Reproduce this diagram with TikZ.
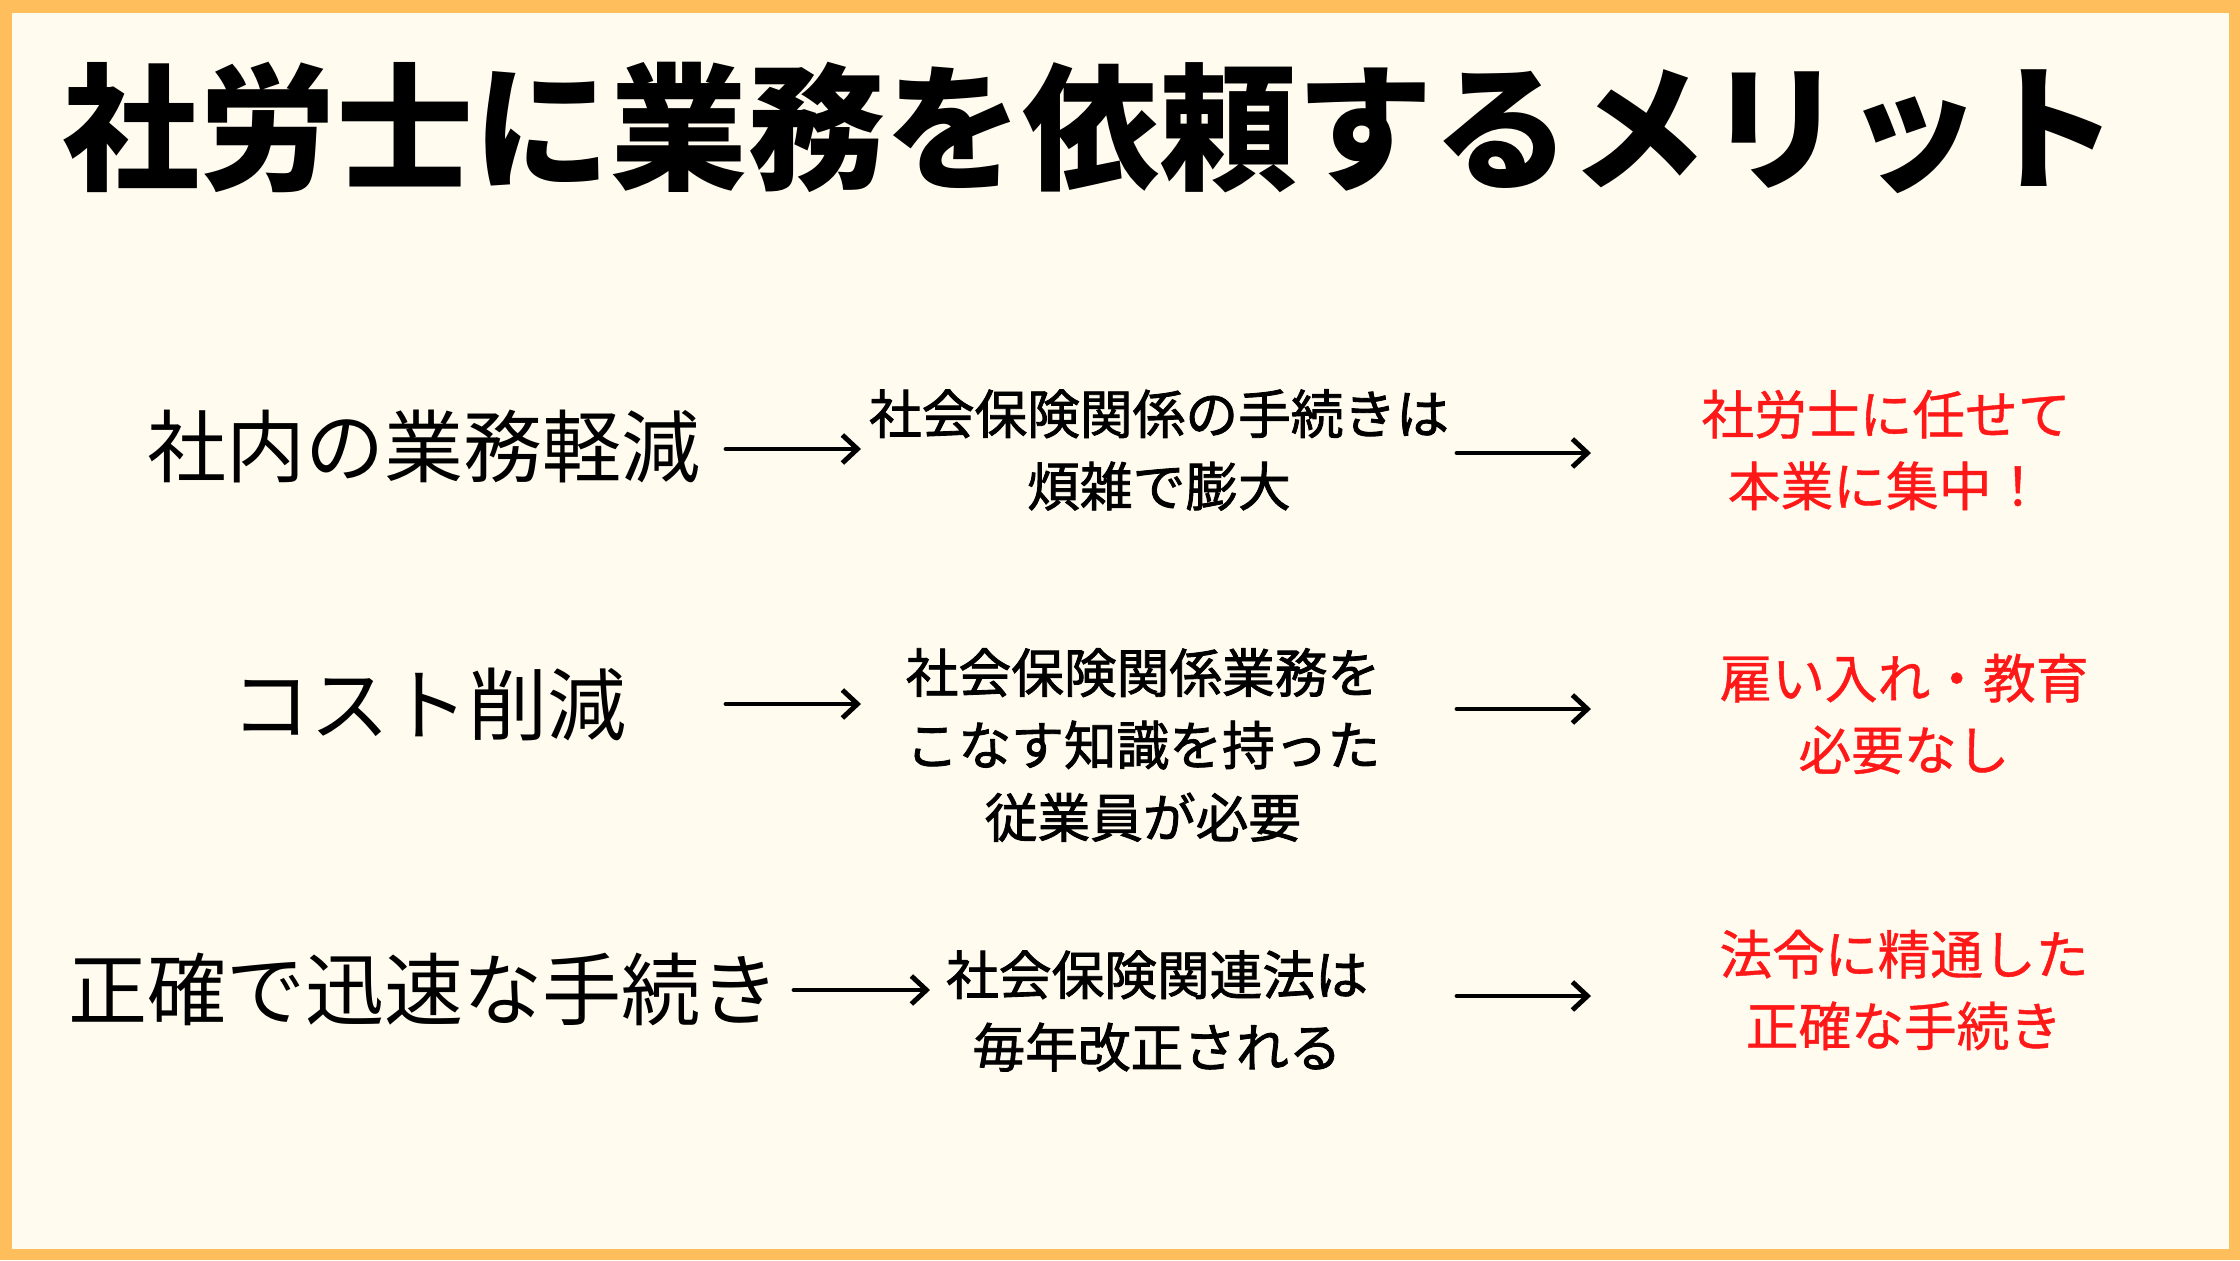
\documentclass[tikz,border=0pt]{standalone}
\usepackage{fontspec}
\usepackage{xcolor}
\usepackage{tikz}
\usetikzlibrary{positioning,arrows.meta}
\newfontfamily\jpfont{Noto Sans CJK JP}
\newfontfamily\jpmid{Noto Sans CJK JP}[FakeBold=1.6]
\newfontfamily\jpred{Noto Sans CJK JP}[FakeBold=0.8]
\definecolor{frameorange}{RGB}{255,190,92}
\definecolor{paper}{RGB}{255,251,239}
\definecolor{accent}{RGB}{255,24,24}

\begin{document}
\begin{tikzpicture}[
  every node/.style={font=\jpfont, inner sep=0pt},
  topic/.style={font=\jpfont\fontsize{22.5}{27}\selectfont},
  why/.style={align=center, font=\jpmid\fontsize{15}{20.6}\selectfont},
  gain/.style={align=center, text=accent, font=\jpred\fontsize{15}{20.4}\selectfont},
  flow/.style={line width=1.4pt, line cap=round, -{Straight Barb[length=1.5mm, width=2.8mm, line width=1.4pt]}}
]
  \useasboundingbox (0,0) rectangle (22.4,12.6);
  \fill[frameorange] (0,0) rectangle (22.4,12.6);
  \fill[paper] (0.12,0.11) rectangle (22.29,12.47);

  \node[anchor=west, font=\jpfont\bfseries\fontsize{39}{44}\selectfont] (title) at (0.62,11.32)
       {社労士に業務を依頼するメリット};

  \node[topic] (cut)   at (4.24,8.14) {社内の業務軽減};
  \node[topic] (cost)  at (4.29,5.56) {コスト削減};
  \node[topic] (quick) at (4.24,2.71) {正確で迅速な手続き};

  \node[why] (heavy) at (11.59,8.10) {社会保険関係の手続きは\\煩雑で膨大};
  \node[why] (staff) at (11.43,5.15) {社会保険関係業務を\\こなす知識を持った\\従業員が必要};
  \node[why] (law)   at (11.57,2.49) {社会保険関連法は\\毎年改正される};

  \node[gain] (focus) at (18.86,8.10) {社労士に任せて\\本業に集中！};
  \node[gain] (nohire) at (19.04,5.46) {雇い入れ・教育\\必要なし};
  \node[gain] (exact) at (19.04,2.70) {法令に精通した\\正確な手続き};

  \coordinate (cutA) at (7.26,8.11);   \coordinate (cutB) at (8.61,8.11);
  \coordinate (heavyA) at (14.57,8.07); \coordinate (heavyB) at (15.91,8.07);
  \coordinate (costA) at (7.26,5.56);  \coordinate (costB) at (8.61,5.56);
  \coordinate (staffA) at (14.57,5.51); \coordinate (staffB) at (15.91,5.51);
  \coordinate (quickA) at (7.94,2.70); \coordinate (quickB) at (9.30,2.70);
  \coordinate (lawA) at (14.57,2.64);   \coordinate (lawB) at (15.91,2.64);

  \draw[flow] (cutA) -- (cutB);
  \draw[flow] (heavyA) -- (heavyB);
  \draw[flow] (costA) -- (costB);
  \draw[flow] (staffA) -- (staffB);
  \draw[flow] (quickA) -- (quickB);
  \draw[flow] (lawA) -- (lawB);
\end{tikzpicture}
\end{document}
